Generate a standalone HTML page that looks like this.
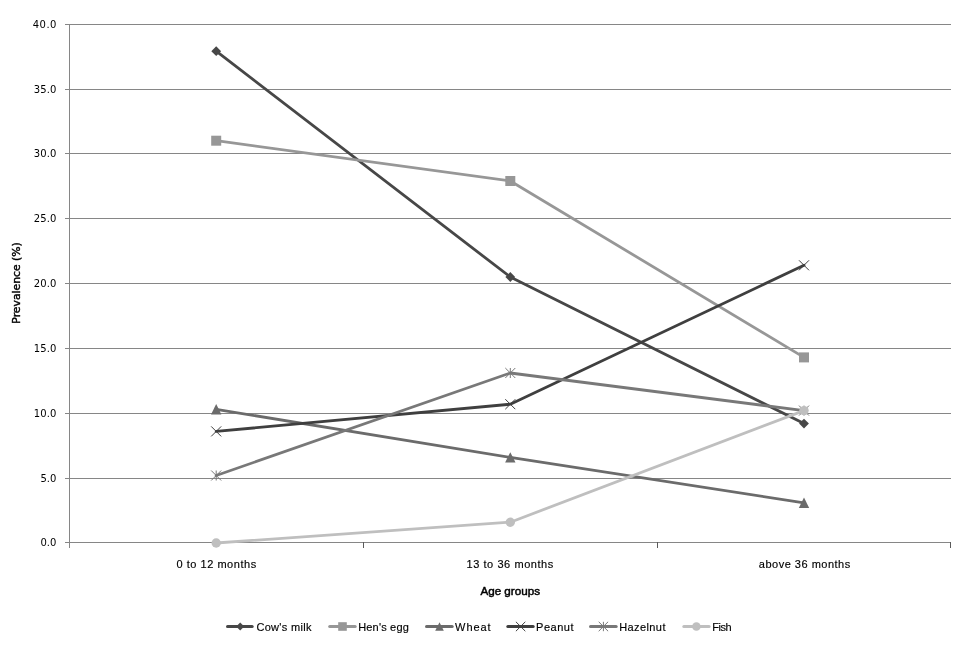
<!DOCTYPE html>
<html lang="en">
<head>
<meta charset="utf-8">
<title>Prevalence by age groups</title>
<style>
html,body{margin:0;padding:0;background:#fff;}
body{width:960px;height:650px;overflow:hidden;}
svg{display:block;}
.num{font-family:"DejaVu Sans","Liberation Sans",sans-serif;font-size:10px;fill:#000;}
.ttl{font-family:"DejaVu Sans","Liberation Sans",sans-serif;font-size:10px;fill:#000;stroke:#000;stroke-width:0.4px;}
.cat{font-family:"Liberation Sans",sans-serif;font-size:11px;fill:#000;stroke:#000;stroke-width:0.15px;}
.catb{font-family:"Liberation Sans",sans-serif;font-size:11px;fill:#000;stroke:#000;stroke-width:0.45px;}
</style>
</head>
<body>
<svg width="960" height="650" viewBox="0 0 960 650">
<rect x="0" y="0" width="960" height="650" fill="#ffffff"/>

<g stroke="#868686" stroke-width="1" fill="none" shape-rendering="crispEdges">
<line x1="65" y1="542.5" x2="951" y2="542.5"/>
<line x1="65" y1="478.5" x2="951" y2="478.5"/>
<line x1="65" y1="413.5" x2="951" y2="413.5"/>
<line x1="65" y1="348.5" x2="951" y2="348.5"/>
<line x1="65" y1="283.5" x2="951" y2="283.5"/>
<line x1="65" y1="218.5" x2="951" y2="218.5"/>
<line x1="65" y1="153.5" x2="951" y2="153.5"/>
<line x1="65" y1="89.5" x2="951" y2="89.5"/>
<line x1="65" y1="24.5" x2="951" y2="24.5"/>
<line x1="69.5" y1="24" x2="69.5" y2="548"/>
</g>
<g stroke="#5a5a5a" stroke-width="1" fill="none" shape-rendering="crispEdges">
<line x1="363.5" y1="542" x2="363.5" y2="548"/>
<line x1="657.5" y1="542" x2="657.5" y2="548"/>
<line x1="950.5" y1="542" x2="950.5" y2="548"/>
</g>
<g class="num" text-anchor="end">
<text x="56.4" y="546.4">0.0</text>
<text x="56.4" y="482.4">5.0</text>
<text x="56.4" y="417.4" textLength="22.6" lengthAdjust="spacing">10.0</text>
<text x="56.4" y="352.4" textLength="22.6" lengthAdjust="spacing">15.0</text>
<text x="56.4" y="287.4" textLength="22.6" lengthAdjust="spacing">20.0</text>
<text x="56.4" y="222.4" textLength="22.6" lengthAdjust="spacing">25.0</text>
<text x="56.4" y="157.4" textLength="22.6" lengthAdjust="spacing">30.0</text>
<text x="56.4" y="93.4" textLength="22.6" lengthAdjust="spacing">35.0</text>
<text x="56.4" y="28.4" textLength="23.6" lengthAdjust="spacing">40.0</text>
</g>
<text class="ttl" text-anchor="middle" transform="translate(20 283) rotate(-90)" textLength="81.3" lengthAdjust="spacingAndGlyphs">Prevalence (%)</text>
<g class="cat" text-anchor="middle">
<text x="216.3" y="568" textLength="79.7" lengthAdjust="spacing">0 to 12 months</text>
<text x="509.9" y="568" textLength="86.8" lengthAdjust="spacing">13 to 36 months</text>
<text x="804.5" y="568" textLength="91.5" lengthAdjust="spacing">above 36 months</text>
</g>
<text class="catb" text-anchor="middle" x="510.2" y="594.6" textLength="59.6" lengthAdjust="spacingAndGlyphs">Age groups</text>
<g><polyline points="216.2,51.2 510.3,277.0 804.0,423.6" fill="none" stroke="#474747" stroke-width="2.8" stroke-linejoin="round" stroke-linecap="round"/>
<path d="M216.2 46.3L221.1 51.2L216.2 56.1L211.3 51.2Z" fill="#474747"/>
<path d="M510.3 272.1L515.2 277.0L510.3 281.9L505.4 277.0Z" fill="#474747"/>
<path d="M804.0 418.7L808.9 423.6L804.0 428.5L799.1 423.6Z" fill="#474747"/>
</g>
<g><polyline points="216.2,140.7 510.3,181.0 804.0,357.4" fill="none" stroke="#979797" stroke-width="2.8" stroke-linejoin="round" stroke-linecap="round"/>
<rect x="211.2" y="135.7" width="10.0" height="10.0" fill="#979797"/>
<rect x="505.3" y="176.0" width="10.0" height="10.0" fill="#979797"/>
<rect x="799.0" y="352.4" width="10.0" height="10.0" fill="#979797"/>
</g>
<g><polyline points="216.2,409.3 510.3,457.4 804.0,502.8" fill="none" stroke="#6b6b6b" stroke-width="2.8" stroke-linejoin="round" stroke-linecap="round"/>
<path d="M216.2 404.1L221.4 414.5L211.0 414.5Z" fill="#6b6b6b"/>
<path d="M510.3 452.2L515.5 462.6L505.1 462.6Z" fill="#6b6b6b"/>
<path d="M804.0 497.6L809.2 508.0L798.8 508.0Z" fill="#6b6b6b"/>
</g>
<g><polyline points="216.2,431.4 510.3,404.2 804.0,265.3" fill="none" stroke="#3f3f3f" stroke-width="2.8" stroke-linejoin="round" stroke-linecap="round"/>
<path d="M211.2 426.4L221.2 436.4M221.2 426.4L211.2 436.4" stroke="#3f3f3f" stroke-width="1" fill="none"/>
<path d="M505.3 399.2L515.3 409.2M515.3 399.2L505.3 409.2" stroke="#3f3f3f" stroke-width="1" fill="none"/>
<path d="M799.0 260.3L809.0 270.3M809.0 260.3L799.0 270.3" stroke="#3f3f3f" stroke-width="1" fill="none"/>
</g>
<g><polyline points="216.2,475.5 510.3,373.0 804.0,410.6" fill="none" stroke="#787878" stroke-width="2.8" stroke-linejoin="round" stroke-linecap="round"/>
<path d="M211.2 470.5L221.2 480.5M221.2 470.5L211.2 480.5M216.2 470.5L216.2 480.5" stroke="#787878" stroke-width="1" fill="none"/>
<path d="M505.3 368.0L515.3 378.0M515.3 368.0L505.3 378.0M510.3 368.0L510.3 378.0" stroke="#787878" stroke-width="1" fill="none"/>
<path d="M799.0 405.6L809.0 415.6M809.0 405.6L799.0 415.6M804.0 405.6L804.0 415.6" stroke="#787878" stroke-width="1" fill="none"/>
</g>
<g><polyline points="216.2,543.0 510.3,522.2 804.0,410.6" fill="none" stroke="#bfbfbf" stroke-width="2.8" stroke-linejoin="round" stroke-linecap="round"/>
<circle cx="216.2" cy="543.0" r="4.7" fill="#bfbfbf"/>
<circle cx="510.3" cy="522.2" r="4.7" fill="#bfbfbf"/>
<circle cx="804.0" cy="410.6" r="4.7" fill="#bfbfbf"/>
</g>
<g><line x1="227.5" y1="626.5" x2="252.2" y2="626.5" stroke="#474747" stroke-width="3" stroke-linecap="round"/>
<path d="M240.2 622.5L244.2 626.5L240.2 630.5L236.2 626.5Z" fill="#474747"/>
<text class="cat" x="256.4" y="630.7" textLength="55.0" lengthAdjust="spacing">Cow's milk</text></g>
<g><line x1="329.7" y1="626.5" x2="355.2" y2="626.5" stroke="#979797" stroke-width="3" stroke-linecap="round"/>
<rect x="338.2" y="622.2" width="8.6" height="8.6" fill="#979797"/>
<text class="cat" x="358.2" y="630.7" textLength="50.6" lengthAdjust="spacing">Hen's egg</text></g>
<g><line x1="426.5" y1="626.5" x2="452.2" y2="626.5" stroke="#6b6b6b" stroke-width="3" stroke-linecap="round"/>
<path d="M439.5 622.2L443.8 630.8L435.2 630.8Z" fill="#6b6b6b"/>
<text class="cat" x="455.1" y="630.7" textLength="35.4" lengthAdjust="spacing">Wheat</text></g>
<g><line x1="507.8" y1="626.5" x2="533.2" y2="626.5" stroke="#3f3f3f" stroke-width="3" stroke-linecap="round"/>
<path d="M515.9 621.8L525.3 631.2M525.3 621.8L515.9 631.2" stroke="#3f3f3f" stroke-width="1" fill="none"/>
<text class="cat" x="536.1" y="630.7" textLength="37.4" lengthAdjust="spacing">Peanut</text></g>
<g><line x1="590.5" y1="626.5" x2="616.2" y2="626.5" stroke="#787878" stroke-width="3" stroke-linecap="round"/>
<path d="M598.7 621.8L608.1 631.2M608.1 621.8L598.7 631.2M603.4 621.8L603.4 631.2" stroke="#787878" stroke-width="1" fill="none"/>
<text class="cat" x="619.2" y="630.7" textLength="46.25" lengthAdjust="spacing">Hazelnut</text></g>
<g><line x1="683.8" y1="626.5" x2="709.1" y2="626.5" stroke="#bfbfbf" stroke-width="3" stroke-linecap="round"/>
<circle cx="696.4" cy="626.5" r="4.3" fill="#bfbfbf"/>
<text class="cat" x="712.2" y="630.7" textLength="19.4" lengthAdjust="spacing">Fish</text></g>
</svg>
</body>
</html>
